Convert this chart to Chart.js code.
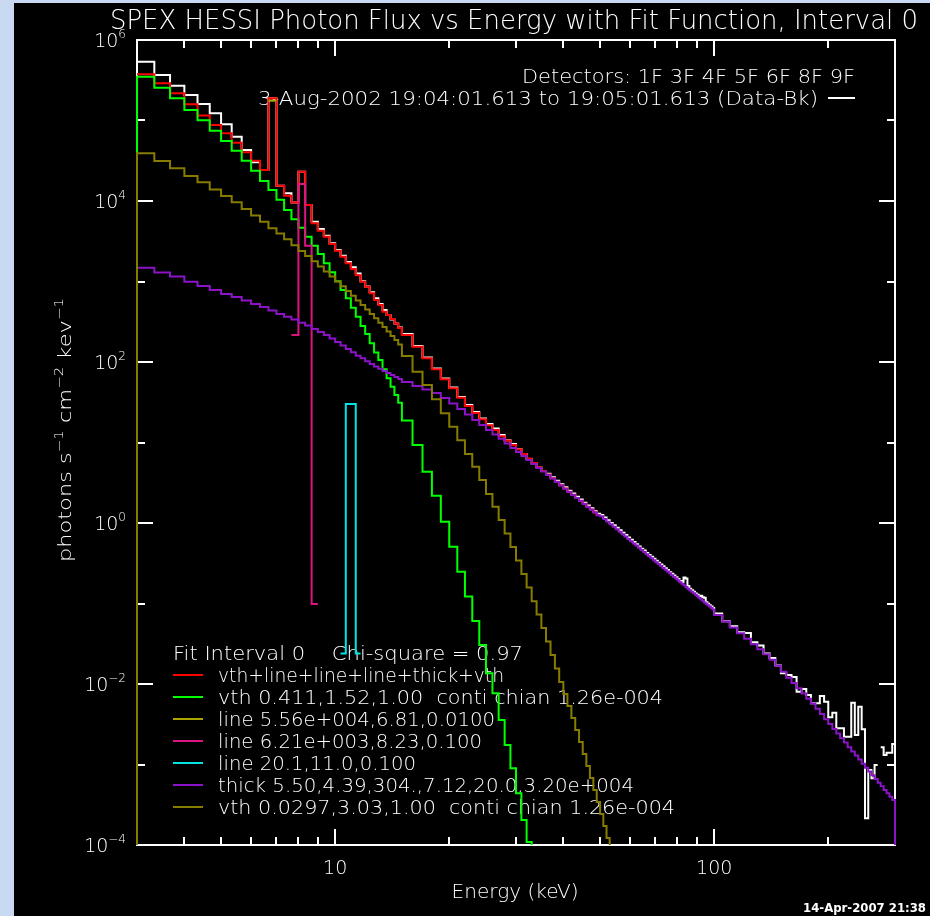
<!DOCTYPE html>
<html lang="en">
<head>
<meta charset="UTF-8">
<title>SPEX HESSI Photon Flux vs Energy</title>
<script src="https://cdn.jsdelivr.net/npm/chart.js"></script>
<style>
  html, body { margin: 0; padding: 0; background: #c9d9f1; }
  body { width: 930px; height: 916px; overflow: hidden; position: relative; }
  #wrap { position: absolute; left: 14px; top: 3px; width: 916px; height: 913px; background: #000; }
</style>
</head>
<body>
<div id="wrap"><canvas id="spexChart" width="916" height="913"></canvas></div>
<script>
// energy bin edges (keV): 1/3 keV up to 15, 1 keV up to 100, 5 keV up to 300
var edgesThird = [3.000, 3.333, 3.667, 4.000, 4.333, 4.667, 5.000, 5.333, 5.667, 6.000, 6.333, 6.667,
  7.000, 7.333, 7.667, 8.000, 8.333, 8.667, 9.000, 9.333, 9.667, 10.000, 10.333, 10.667,
  11.000, 11.333, 11.667, 12.000, 12.333, 12.667, 13.000, 13.333, 13.667, 14.000, 14.333, 14.667];
var edgesOne = [15, 16, 17, 18, 19, 20, 21, 22, 23, 24, 25, 26, 27, 28, 29, 30, 31, 32, 33, 34, 35, 36, 37, 38, 39,
  40, 41, 42, 43, 44, 45, 46, 47, 48, 49, 50, 51, 52, 53, 54, 55, 56, 57, 58, 59, 60, 61, 62, 63, 64,
  65, 66, 67, 68, 69, 70, 71, 72, 73, 74, 75, 76, 77, 78, 79, 80, 81, 82, 83, 84, 85, 86, 87, 88, 89,
  90, 91, 92, 93, 94, 95, 96, 97, 98, 99];
var edgesFive = [100, 105, 110, 115, 120, 125, 130, 135, 140, 145, 150, 155, 160, 165, 170, 175, 180, 185, 190, 195,
  200, 205, 210, 215, 220, 225, 230, 235, 240, 245, 250, 255, 260, 265, 270, 275, 280, 285, 290, 295];
var energyEdges = edgesThird.concat(edgesOne, edgesFive, [300]);

// photon flux (photons s^-1 cm^-2 keV^-1), one value per bin starting at 3 keV
var dataFlux = [5.38e5, 3.67e5, 2.71e5, 2.07e5, 1.60e5, 1.23e5, 8.97e4, 6.29e4, 4.30e4, 3.02e4, 2.43e4, 1.89e5,
  1.55e4, 1.25e4, 9.58e3, 2.31e4, 8.92e3, 5.53e3, 4.49e3, 3.71e3, 2.98e3, 2.46e3, 2.09e3, 1.75e3,
  1.50e3, 1.26e3, 1.01e3, 867, 734, 618, 525, 443, 384, 337, 301, 268,
  223, 158, 114, 83.0, 62.4, 48.2, 36.7, 29.2, 23.9, 19.9, 17.0, 14.9, 12.4, 10.7, 9.58, 8.31, 7.20, 6.24, 5.48, 4.89, 4.43,
  4.10, 3.70, 3.36, 3.03, 2.78, 2.52, 2.32, 2.12, 1.96, 1.79, 1.65, 1.52, 1.40, 1.30,
  1.26, 1.17, 1.08, 1.00, 0.935, 0.870, 0.810, 0.755, 0.710, 0.660,
  0.620, 0.580, 0.545, 0.510, 0.480, 0.455, 0.425, 0.400, 0.380, 0.360,
  0.340, 0.320, 0.305, 0.290, 0.275, 0.260, 0.245, 0.235, 0.222, 0.212,
  0.202, 0.190, 0.185, 0.210, 0.205, 0.165, 0.152, 0.146, 0.140, 0.133,
  0.128, 0.122, 0.125, 0.120, 0.118, 0.104, 0.099, 0.095, 0.092, 0.088,
  0.075, 0.060, 0.052, 0.044, 0.043, 0.033, 0.030, 0.024, 0.021, 0.017,
  0.0136, 0.0129, 0.0122, 8.02e-3, 8.67e-3, 7.30e-3, 5.76e-3, 5.76e-3, 7.10e-3, 6.03e-3,
  3.86e-3, 4.40e-3, 2.82e-3, 2.82e-3, 2.21e-3, 2.21e-3, 5.86e-3, 2.33e-3, 5.23e-3, 2.74e-3,
  2.15e-4, 8.54e-4, 6.74e-4, 9.86e-4, null, 1.64e-3, 1.31e-3, 1.40e-3, 1.40e-3, 1.80e-3];

// total fit vth+line+line+line+thick+vth
var totalFlux = [3.75e5, 2.90e5, 2.18e5, 1.59e5, 1.15e5, 8.79e4, 6.93e4, 5.30e4, 4.03e4, 3.17e4, 2.43e4, 1.89e5,
  1.55e4, 1.16e4, 9.58e3, 2.31e4, 8.92e3, 5.28e3, 4.28e3, 3.60e3, 2.92e3, 2.41e3, 2.03e3, 1.68e3,
  1.43e3, 1.20e3, 994, 862, 714, 589, 511, 422, 384, 342, 301, 265,
  216, 155, 111, 81.2, 61.0, 47.1, 36.0, 28.4, 23.3, 19.4, 16.4, 14.3, 12.0, 10.6, 9.31, 8.23, 7.20, 6.33, 5.56, 4.92,
  4.43, 4.00, 3.60, 3.25, 2.94, 2.68, 2.44, 2.24, 2.05, 1.89, 1.73, 1.59, 1.47, 1.36, 1.26];

// vth 0.411,1.52,1.00
var vthHotFlux = [3.50e5, 2.56e5, 1.89e5, 1.35e5, 1.01e5, 7.47e4, 5.56e4, 4.22e4, 3.17e4, 2.38e4, 1.77e4, 1.37e4,
  1.04e4, 7.73e3, 5.93e3, 4.66e3, 3.60e3, 2.78e3, 2.20e3, 1.68e3, 1.30e3, 1.01e3, 784, 619,
  473, 365, 280, 223, 171, 131, 106, 81.2, 62.8, 49.3, 38.9, 31.2,
  18.7, 9.31, 4.34, 2.18, 1.04, 0.508, 0.248, 0.122, 0.0607, 0.0305, 0.0136, 7.67e-3, 3.57e-3, 1.75e-3,
  8.97e-4, 4.39e-4, 2.05e-4, 1.09e-4, 5.0e-5];

// thick 5.50,4.39,304.,7.12,20.0,3.20e+004
var thickFlux = [1.48e3, 1.29e3, 1.15e3, 994, 879, 784, 699, 642, 581, 525, 482, 436,
  395, 365, 337, 308, 284, 257, 236, 216, 196, 177, 160, 145,
  132, 120, 111, 102, 94.5, 87.9, 82.3, 77.3, 73.0, 68.9, 65.1, 61.5,
  56.4, 50.3, 45.5, 41.2, 35.7, 30.5, 26.1, 22.3, 19.0, 16.5, 14.3, 12.6, 11.1, 9.72, 8.55, 7.62, 6.80, 6.06, 5.41, 4.82, 4.36,
  3.95, 3.57, 3.23, 2.92, 2.67, 2.43, 2.23, 2.04, 1.88, 1.72, 1.58, 1.46, 1.35, 1.25,
  1.21, 1.12, 1.04, 0.964, 0.897, 0.835, 0.777, 0.726, 0.680, 0.635,
  0.594, 0.558, 0.524, 0.492, 0.462, 0.435, 0.410, 0.387, 0.365, 0.345,
  0.326, 0.309, 0.292, 0.277, 0.263, 0.249, 0.237, 0.225, 0.214, 0.204,
  0.194, 0.184, 0.176, 0.168, 0.160, 0.153, 0.146, 0.140, 0.134, 0.128,
  0.123, 0.117, 0.112, 0.108, 0.103, 0.0992, 0.0953, 0.0915, 0.0879, 0.0842,
  0.0720, 0.0599, 0.0503, 0.0426, 0.0364, 0.0312, 0.0270, 0.0234, 0.0200, 0.0168,
  0.0142, 0.0120, 0.0103, 8.84e-3, 7.62e-3, 6.58e-3, 5.72e-3, 4.91e-3, 4.23e-3, 3.65e-3,
  3.18e-3, 2.77e-3, 2.42e-3, 2.12e-3, 1.87e-3, 1.64e-3, 1.45e-3, 1.29e-3, 1.15e-3, 1.02e-3,
  9.12e-4, 8.16e-4, 7.34e-4, 6.59e-4, 5.92e-4, 5.35e-4, 4.83e-4, 4.39e-4, 3.98e-4, 3.61e-4];

// vth 0.0297,3.03,1.00
var vthWarmFlux = [3.91e4, 3.14e4, 2.55e4, 2.04e4, 1.71e4, 1.39e4, 1.15e4, 9.64e3, 7.96e3, 6.60e3, 5.53e3, 4.58e3,
  3.95e3, 3.34e3, 2.82e3, 2.39e3, 2.07e3, 1.78e3, 1.54e3, 1.33e3, 1.15e3, 1.00e3, 872, 762,
  666, 581, 511, 449, 395, 349, 308, 272, 239, 210, 188, 165,
  119, 75.8, 51.8, 34.4, 23.1, 15.7, 10.7, 7.20, 5.00, 3.42,
  2.29, 1.59, 1.09, 0.741, 0.503, 0.342, 0.233, 0.158, 0.107, 0.0730,
  0.0496, 0.0337, 0.0229, 0.0156, 0.0106, 7.51e-3, 5.33e-3, 3.78e-3, 2.68e-3, 1.90e-3,
  1.35e-3, 9.58e-4, 6.80e-4, 4.82e-4, 3.42e-4, 2.43e-4, 1.72e-4, 1.22e-4, 8.6e-5];

// narrow lines: bin edges and flux
var lineFeEdges = [6.667, 7.000];
var lineFeFlux = [1.76e5];
var lineFeNiEdges = [7.667, 8.000, 8.333, 8.667, 9.000];
var lineFeNiFlux = [216, 1.63e4, 2.78e3, 0.0986];
var lineElevenEdges = [10.333, 10.667, 11.000, 11.333, 11.667];
var lineElevenFlux = [0.024, 30.1, 30.1, 0.024];

// level below the plot floor, where the model histograms start and stop
var baseline = 1e-6;

// axis ticks and labels
var xMajorTicks = [10, 100];
var xTickLabels = ['10', '100'];
var xMinorTicks = [4, 5, 6, 7, 8, 9, 20, 30, 40, 50, 60, 70, 80, 90, 200];
var yLabelTicks = [1e-4, 1e-2, 1, 1e2, 1e4, 1e6];
var yLabelExps = ['\u22124', '\u22122', '0', '2', '4', '6'];
var yPlainTicks = [1e-3, 1e-1, 10, 1e3, 1e5];

var titleText = 'SPEX HESSI Photon Flux vs Energy with Fit Function, Interval 0';
var detectorText = 'Detectors: 1F 3F 4F 5F 6F 8F 9F';
var timeText = '3-Aug-2002 19:04:01.613 to 19:05:01.613 (Data-Bk)';
var fitHeader = 'Fit Interval 0    Chi-square = 0.97';
var legendLabels = [
  'vth+line+line+line+thick+vth',
  'vth 0.411,1.52,1.00  conti chian 1.26e-004',
  'line 5.56e+004,6.81,0.0100',
  'line 6.21e+003,8.23,0.100',
  'line 20.1,11.0,0.100',
  'thick 5.50,4.39,304.,7.12,20.0,3.20e+004',
  'vth 0.0297,3.03,1.00  conti chian 1.26e-004'
];
var xTitle = 'Energy (keV)';
var yTitleParts = [['photons s', 0], ['\u22121', 1], [' cm', 0], ['\u22122', 1], [' kev', 0], ['\u22121', 1]];
var stampText = '14-Apr-2007 21:38';

var colData = '#ffffff', colTotal = '#ff0000', colVthHot = '#00ff00', colLineFe = '#aaa400',
  colLineFeNi = '#dc1482', colLineEleven = '#00e4e4', colThick = '#8c14c8', colVthWarm = '#857c00';
var legendColors = [colTotal, colVthHot, colLineFe, colLineFeNi, colLineEleven, colThick, colVthWarm];

// text layout in page pixels
var FONT = '"DejaVu Sans", "Liberation Sans", Arial, sans-serif';
var TEXT_WEIGHT = '200';
var PAGE_X = 14, PAGE_Y = 3;
var legendWidths = [286, 445, 277, 264, 198, 416, 457];

function histPoints(edges, flux, fromBase, toBase) {
  var pts = [];
  if (fromBase) pts.push({ x: edges[0], y: baseline });
  for (var i = 0; i < flux.length; i++) {
    if (flux[i] === null) { pts.push({ x: edges[i], y: null }); continue; }
    pts.push({ x: edges[i], y: flux[i] });
    pts.push({ x: edges[i + 1], y: flux[i] });
  }
  if (toBase) pts.push({ x: edges[flux.length], y: baseline });
  return pts;
}

function fitText(ctx, str, x, y, size, width, align, weight) {
  ctx.font = (weight || TEXT_WEIGHT) + ' ' + size + 'px ' + FONT;
  var w = ctx.measureText(str).width;
  var sx = width ? width / w : 1;
  var tw = w * sx;
  var left = align === 'right' ? x - tw : (align === 'center' ? x - tw / 2 : x);
  ctx.save();
  ctx.translate(left, y);
  ctx.scale(sx, 1);
  ctx.textAlign = 'left';
  ctx.textBaseline = 'alphabetic';
  ctx.fillText(str, 0, 0);
  ctx.restore();
}

function richWidth(ctx, parts, size, supSize) {
  var w = 0;
  parts.forEach(function (p) {
    ctx.font = TEXT_WEIGHT + ' ' + (p[1] ? supSize : size) + 'px ' + FONT;
    w += ctx.measureText(p[0]).width;
  });
  return w;
}

function drawRich(ctx, parts, size, supSize, rise) {
  var x = 0;
  ctx.textAlign = 'left';
  ctx.textBaseline = 'alphabetic';
  parts.forEach(function (p) {
    ctx.font = TEXT_WEIGHT + ' ' + (p[1] ? supSize : size) + 'px ' + FONT;
    ctx.fillText(p[0], x, p[1] ? -rise : 0);
    x += ctx.measureText(p[0]).width;
  });
}

// IDL-style frame: box, inward ticks, labels and annotations
var idlFrame = {
  id: 'idlFrame',
  beforeDatasetsDraw: function (chart) {
    var ctx = chart.ctx, a = chart.chartArea;
    var xs = chart.scales.x, ys = chart.scales.y;
    ctx.save();
    ctx.strokeStyle = '#ffffff';
    ctx.fillStyle = '#ffffff';
    ctx.lineWidth = 2;
    ctx.strokeRect(a.left, a.top, a.right - a.left, a.bottom - a.top);

    function xTick(v, len) {
      var px = Math.round(xs.getPixelForValue(v));
      ctx.beginPath();
      ctx.moveTo(px, a.bottom); ctx.lineTo(px, a.bottom - len);
      ctx.moveTo(px, a.top); ctx.lineTo(px, a.top + len);
      ctx.stroke();
    }
    function yTick(v, len) {
      var py = Math.round(ys.getPixelForValue(v));
      ctx.beginPath();
      ctx.moveTo(a.left, py); ctx.lineTo(a.left + len, py);
      ctx.moveTo(a.right, py); ctx.lineTo(a.right - len, py);
      ctx.stroke();
    }
    xMajorTicks.forEach(function (v) { xTick(v, 16); });
    xMinorTicks.forEach(function (v) { xTick(v, 8); });
    yLabelTicks.forEach(function (v) { yTick(v, 16); });
    yPlainTicks.forEach(function (v) { yTick(v, 8); });

    // labels, placed in page coordinates
    ctx.translate(-PAGE_X, -PAGE_Y);
    xMajorTicks.forEach(function (v, i) {
      var px = xs.getPixelForValue(v) + PAGE_X;
      fitText(ctx, xTickLabels[i], px, 874, 19, 0, 'center');
    });
    yLabelTicks.forEach(function (v, i) {
      var py = ys.getPixelForValue(v) + PAGE_Y;
      var parts = [['10', 0], [yLabelExps[i], 1]];
      var w = richWidth(ctx, parts, 19, 12);
      ctx.save();
      ctx.translate(126 - w, py + 7);
      drawRich(ctx, parts, 19, 12, 9);
      ctx.restore();
    });

    fitText(ctx, titleText, 110, 29, 26, 808, 'left');
    fitText(ctx, detectorText, 855, 83, 19, 333, 'right');
    fitText(ctx, timeText, 258, 105, 19, 560, 'left');
    ctx.beginPath();
    ctx.moveTo(828, 98); ctx.lineTo(855, 98);
    ctx.stroke();

    fitText(ctx, xTitle, 515, 898, 20, 127, 'center');

    // rotated y title
    ctx.save();
    ctx.translate(70.5, 430);
    ctx.rotate(-Math.PI / 2);
    var tw = richWidth(ctx, yTitleParts, 18, 12);
    ctx.scale(264 / tw, 1);
    ctx.translate(-tw / 2, 0);
    drawRich(ctx, yTitleParts, 18, 12, 8);
    ctx.restore();

    // fit legend
    fitText(ctx, fitHeader, 173, 660, 19, 350, 'left');
    legendLabels.forEach(function (label, i) {
      var base = 681.7 + 22 * i;
      ctx.strokeStyle = legendColors[i];
      ctx.beginPath();
      ctx.moveTo(173, Math.round(base - 7)); ctx.lineTo(203, Math.round(base - 7));
      ctx.stroke();
      fitText(ctx, label, 218, base, 19, legendWidths[i], 'left');
    });

    fitText(ctx, stampText, 926, 912, 12, 123, 'right', 'bold');
    ctx.restore();
  }
};

var stepLine = { borderWidth: 2, pointRadius: 0, tension: 0, fill: false, clip: { left: 2, right: 2, top: 0, bottom: 0 } };
function series(label, points, color, order) {
  return Object.assign({ label: label, data: points, borderColor: color, order: order }, stepLine);
}

new Chart(document.getElementById('spexChart'), {
  type: 'line',
  data: {
    datasets: [
      series('Data-Bk', histPoints(energyEdges, dataFlux, false, false), colData, 8),
      series('vth+line+line+line+thick+vth', histPoints(energyEdges, totalFlux, false, false), colTotal, 7),
      series('vth 0.411,1.52,1.00', histPoints(energyEdges, vthHotFlux, true, false), colVthHot, 6),
      series('line 5.56e+004,6.81,0.0100', histPoints(lineFeEdges, lineFeFlux, false, false), colLineFe, 5),
      series('line 6.21e+003,8.23,0.100', histPoints(lineFeNiEdges, lineFeNiFlux, false, false), colLineFeNi, 4),
      series('line 20.1,11.0,0.100', histPoints(lineElevenEdges, lineElevenFlux, false, false), colLineEleven, 3),
      series('thick 5.50,4.39,304.,7.12,20.0,3.20e+004', histPoints(energyEdges, thickFlux, true, true), colThick, 2),
      series('vth 0.0297,3.03,1.00', histPoints(energyEdges, vthWarmFlux, true, false), colVthWarm, 1)
    ]
  },
  options: {
    responsive: false,
    animation: false,
    devicePixelRatio: 1,
    layout: { padding: { left: 123, right: 35, top: 37, bottom: 71 } },
    scales: {
      x: { type: 'logarithmic', min: 3, max: 300, display: false },
      y: { type: 'logarithmic', min: 1e-4, max: 1e6, display: false }
    },
    plugins: { legend: { display: false }, tooltip: { enabled: false } }
  },
  plugins: [idlFrame]
});
</script>
</body>
</html>
